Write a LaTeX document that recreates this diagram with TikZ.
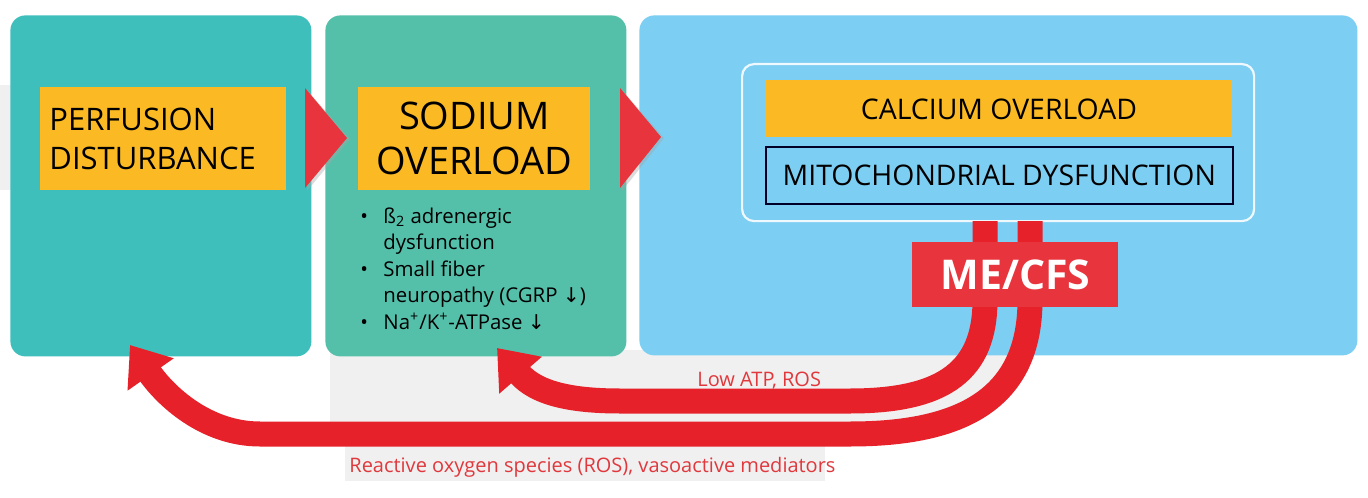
\documentclass[tikz,border=0pt]{standalone}
\usepackage{fontspec}
\setmainfont{Open Sans}
\newfontfamily\arrfont{DejaVu Sans}
\usetikzlibrary{arrows.meta}
\definecolor{tealA}{HTML}{3FBFBC}
\definecolor{tealB}{HTML}{55C0AA}
\definecolor{skyC}{HTML}{7CCEF2}
\definecolor{yel}{HTML}{FBBA23}
\definecolor{bandred}{HTML}{E62129}
\definecolor{boxred}{HTML}{E8343C}
\definecolor{labred}{HTML}{E0383C}
\definecolor{ghost}{HTML}{F0F0F0}
\newcommand{\dn}{{\arrfont\char"2193}}
\tikzset{
  panel/.style={anchor=north west, inner sep=0pt, rounded corners=7.5pt, draw=none},
  yelbox/.style={anchor=north west, fill=yel, inner sep=0pt},
  band/.style={draw=bandred, line width=12.5pt},
  bandarrow/.style={band, -{Triangle[length=18pt,width=27pt]}},
  tri/.style={fill=boxred},
  trishadow/.style={fill=black!35, opacity=0.4},
  lab/.style={text=labred, font=\fontsize{10}{12}\selectfont, inner sep=0pt}
}
\begin{document}
\begin{tikzpicture}[x=0.5pt, y=-0.5pt]
\useasboundingbox (0,0) rectangle (1368,497);
\fill[white] (0,0) rectangle (1368,497);
% faint background areas
\fill[ghost] (0,85) rectangle (12,190);
\begin{scope}
\clip (330,350) rectangle (1100,440);
\fill[ghost] (330,300) -- (1030,300) .. controls (1030,400) and (960,434) .. (850,434) -- (330,434) -- cycle;
\end{scope}
\fill[ghost] (345,446) rectangle (825,481);
% panels
\node[panel, fill=tealA, minimum width=150.5pt, minimum height=170.5pt] (p1) at (10,15) {};
\node[panel, fill=tealB, minimum width=150.5pt, minimum height=170.5pt] (p2) at (325,15) {};
\node[panel, fill=skyC, minimum width=359pt, minimum height=170pt] (p3) at (639,15) {};
% yellow boxes
\node[yelbox, minimum width=118.5pt, minimum height=51.5pt, align=left, text width=114pt, inner xsep=4.5pt,
      font=\fontsize{15.5}{19.5}\selectfont] (perf) at (40,87) {PERFUSION\\DISTURBANCE};
\node[yelbox, minimum width=116pt, minimum height=51.5pt, align=center,
      font=\fontsize{19}{22.5}\selectfont] (sod) at (358,87) {SODIUM\\OVERLOAD};
% triangles
\fill[trishadow] (307,90) -- (350,139) -- (307,191) -- cycle;
\fill[tri] (305,88) -- (347,138) -- (305,188) -- cycle;
\fill[trishadow] (622,90) -- (664,138) -- (622,191) -- cycle;
\fill[tri] (620,88) -- (661,137) -- (620,188) -- cycle;
% bullets
\node[anchor=north west, inner sep=0pt, align=left, font=\fontsize{10.2}{13.25}\selectfont] (bul) at (360,207)
 {\makebox[11.5pt][l]{\textbullet}ß\textsubscript{2} adrenergic\\
  \hspace*{11.5pt}dysfunction\\
  \makebox[11.5pt][l]{\textbullet}Small fiber\\
  \hspace*{11.5pt}neuropathy (CGRP \dn)\\
  \makebox[11.5pt][l]{\textbullet}Na\textsuperscript{+}/K\textsuperscript{+}-ATPase \dn};
% inner group
\node[anchor=north west, inner sep=0pt, rounded corners=6pt, draw=white!88!skyC, line width=1.1pt,
      minimum width=256pt, minimum height=78.5pt] (grp) at (741,63) {};
\node[yelbox, minimum width=233.5pt, minimum height=28.5pt, font=\fontsize{14.2}{16}\selectfont] (cal) at (765,80) {CALCIUM OVERLOAD};
\node[anchor=north west, inner sep=0pt, draw=black!85!blue, line width=0.8pt, minimum width=233.5pt, minimum height=28.5pt,
      font=\fontsize{14.2}{16}\selectfont] (mito) at (765,146) {MITOCHONDRIAL DYSFUNCTION};
% bands
\coordinate (b1s) at (985,221);
\coordinate (b2s) at (1030,221);
\coordinate (t1) at (497,348);
\coordinate (t2) at (130,345);
\draw[bandarrow] (b1s) -- (985,300) .. controls (985,370) and (945,401) .. (850,401) -- (620,401)
   .. controls (570,401) and (536,393) .. (t1);
\draw[bandarrow] (b2s) -- (1030,300) .. controls (1030,400) and (960,434) .. (850,434) -- (260,434)
   .. controls (205,434) and (165,395) .. (t2);
% ME/CFS
\node[anchor=north west, inner sep=0pt, fill=boxred, minimum width=103pt, minimum height=32.5pt,
      text=white, font=\fontsize{20.5}{22}\selectfont\bfseries] (me) at (912,242) {ME/CFS};
% labels
\node[lab, anchor=base west] (l1) at (697,386) {Low ATP, ROS};
\node[lab, anchor=base west] (l2) at (349,472) {Reactive oxygen species (ROS), vasoactive mediators};
\end{tikzpicture}
\end{document}
